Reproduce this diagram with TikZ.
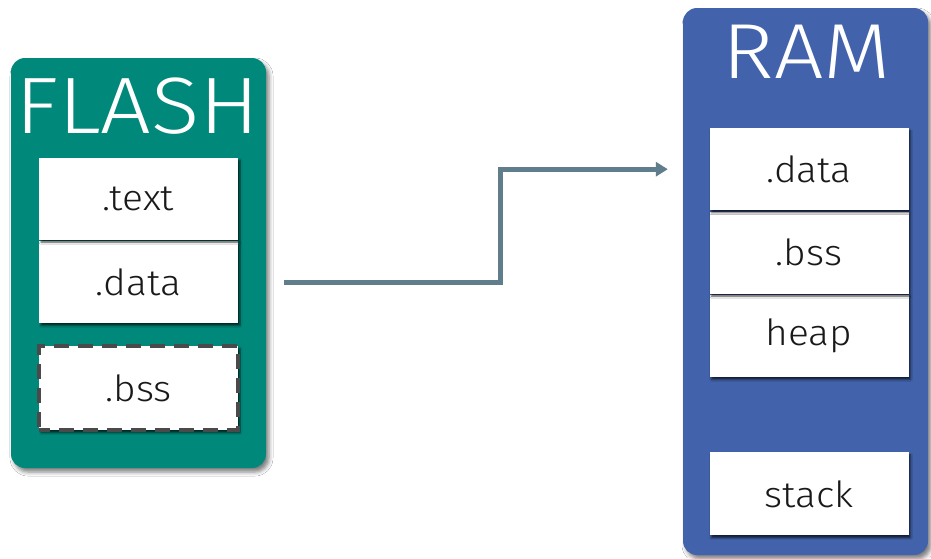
\documentclass[tikz,border=0pt]{standalone}
\usepackage{fontspec}
\setmainfont{Fira Sans Light}[FakeStretch=1.08]
\newfontfamily\headfont{Fira Sans Light}[FakeStretch=1.12]
\usetikzlibrary{arrows.meta, positioning, shadows.blur}

\definecolor{flashcol}{HTML}{00897B}
\definecolor{ramcol}{HTML}{4263AB}
\definecolor{linkcol}{HTML}{607D8B}
\definecolor{dashcol}{HTML}{4A4A4A}

\tikzset{
  memblock/.style={rounded corners=14pt, inner sep=0pt,
    blur shadow={shadow xshift=3pt, shadow yshift=-4pt,
      shadow blur radius=4pt, shadow opacity=50}},
  memtitle/.style={text=white, anchor=base, inner sep=0pt,
    font=\headfont\fontsize{80}{80}\selectfont},
  section/.style={fill=white, inner sep=0pt, minimum width=199pt,
    minimum height=82pt, text=black!90, font=\fontsize{36}{36}\selectfont,
    blur shadow={shadow xshift=2pt, shadow yshift=-2.5pt,
      shadow blur radius=2pt, shadow opacity=70}},
  flow/.style={draw=linkcol, line width=5pt,
    -{Triangle[length=12pt, width=14pt]}},
}

\begin{document}
\begin{tikzpicture}[x=1pt, y=-1pt]
  \fill[white] (0,0) rectangle (931,558);
  \useasboundingbox (0,0) rectangle (931,558);

  % FLASH block
  \node[memblock, fill=flashcol, minimum width=255pt, minimum height=410pt]
    (flash) at (138.5,263) {};
  \node[memtitle] (flashname) at (137.5,133) {FLASH};
  \node[section] (fdata) at (138.5,282) {.data};
  \node[section, above=1pt of fdata] (ftext) {.text};
  \node[section, below=21pt of fdata, minimum height=84pt, draw=dashcol,
    line width=4pt, dash pattern=on 15pt off 9pt, dash phase=4pt] (fbss) {.bss};

  % RAM block
  \node[memblock, fill=ramcol, minimum width=245pt, minimum height=547pt]
    (ram) at (805.5,281.5) {};
  \node[memtitle, font=\headfont\fontsize{78}{78}\selectfont] (ramname)
    at (807,78) {RAM};
  \node[section] (rheap) at (809,336) {heap};
  \node[section, above=1pt of rheap] (rbss) {.bss};
  \node[section, above=1pt of rbss] (rdata) {.data};
  \node[section, below=75pt of rheap, minimum height=83pt] (rstack) {stack};

  % copy of .data from FLASH into RAM
  \coordinate (bend) at (500,0);
  \draw[flow, shorten <=18pt, shorten >=15pt]
    (flash.east |- fdata) -- (bend |- fdata) -- (bend |- rdata)
    -- (ram.west |- rdata);
\end{tikzpicture}
\end{document}
